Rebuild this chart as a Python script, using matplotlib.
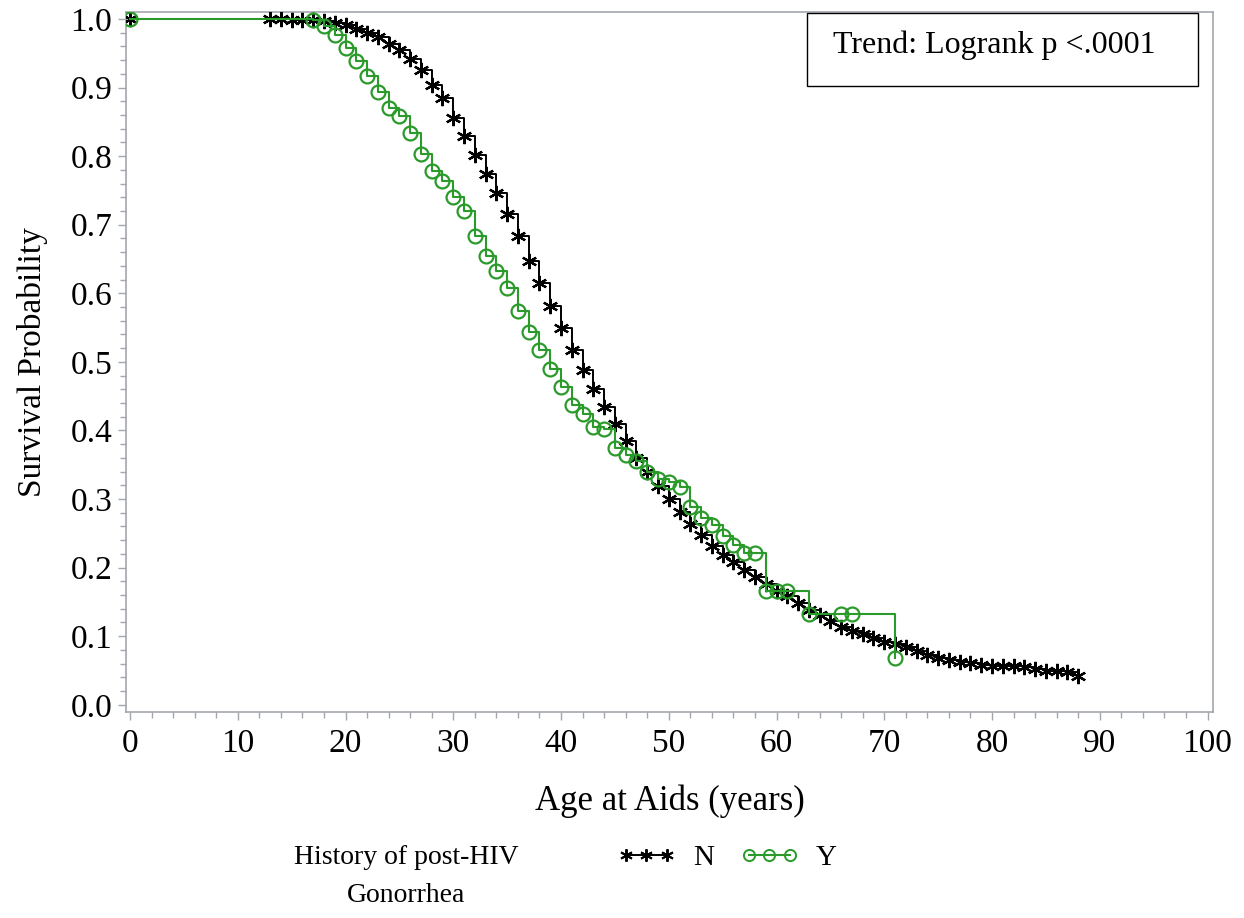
import numpy as np
import matplotlib.pyplot as plt
from matplotlib.lines import Line2D
from matplotlib.ticker import MultipleLocator

plt.rcParams['font.family'] = ['Liberation Serif', 'DejaVu Serif']

# survival estimates
ageN = [0] + list(range(13, 89))
survN = [1.0,
         1.0, 1.0, 0.999, 0.999, 0.998, 0.997, 0.994, 0.991, 0.985, 0.979,
         0.973, 0.964, 0.954, 0.942, 0.925, 0.904, 0.884, 0.856, 0.83, 0.802,
         0.774, 0.746, 0.716, 0.684, 0.647, 0.615, 0.581, 0.55, 0.518, 0.488,
         0.461, 0.434, 0.409, 0.384, 0.36, 0.34, 0.319, 0.3, 0.281, 0.263,
         0.247, 0.231, 0.218, 0.208, 0.197, 0.186, 0.176, 0.166, 0.159, 0.148,
         0.138, 0.131, 0.122, 0.113, 0.108, 0.103, 0.097, 0.092, 0.089, 0.084,
         0.079, 0.073, 0.068, 0.066, 0.062, 0.061, 0.058, 0.057, 0.057, 0.056,
         0.055, 0.052, 0.05, 0.05, 0.048, 0.042]

ageY = [0] + list(range(17, 62)) + [63, 66, 67, 71]
survY = [1.0,
         0.998, 0.99, 0.976, 0.958, 0.939, 0.917, 0.894, 0.870, 0.859, 0.834,
         0.803, 0.779, 0.763, 0.741, 0.72, 0.683, 0.654, 0.632, 0.608, 0.574,
         0.544, 0.517, 0.49, 0.464, 0.437, 0.424, 0.405, 0.402, 0.374, 0.364,
         0.355, 0.339, 0.329, 0.325, 0.317, 0.288, 0.272, 0.262, 0.246, 0.233,
         0.221, 0.221, 0.166, 0.166, 0.166,
         0.132, 0.132, 0.132, 0.068]

green = '#2a9a2a'
gray = '#a3a7ab'

fig = plt.figure(figsize=(12.44, 9.18), dpi=100)
ax = fig.add_axes([0.1013, 0.2244, 0.8737, 0.7626])

starN = (6, 2, 0)
ax.step(ageN, survN, where='post', color='black', lw=1.4, zorder=2)
ax.plot(ageN, survN, ls='none', marker=starN, ms=11, mew=1.6, color='black', zorder=3)
ax.step(ageY, survY, where='post', color=green, lw=1.5, zorder=4)
ax.plot(ageY, survY, ls='none', marker='o', ms=10, mew=1.6, mfc='none', mec=green, zorder=5)

ax.set_xlim(-0.37, 100.5)
ax.set_ylim(-0.0105, 1.0102)
ax.xaxis.set_major_locator(MultipleLocator(10))
ax.xaxis.set_minor_locator(MultipleLocator(2))
ax.yaxis.set_major_locator(MultipleLocator(0.1))
ax.yaxis.set_minor_locator(MultipleLocator(0.02))
ax.yaxis.set_major_formatter(plt.FormatStrFormatter('%.1f'))
ax.tick_params(which='major', length=6, width=1, color=gray, labelsize=24, pad=6)
ax.tick_params(axis='y', pad=4)
ax.tick_params(which='minor', length=4, width=1, color=gray)
for s in ax.spines.values():
    s.set_color(gray)
    s.set_linewidth(1.2)

ax.set_xlabel('Age at Aids (years)', fontsize=25, labelpad=18)
ax.set_ylabel('Survival Probability', fontsize=24, labelpad=16)

box = plt.Rectangle((0.627, 0.894), 0.359, 0.105, transform=ax.transAxes, fill=False,
                    ec='black', lw=1, zorder=6)
ax.add_patch(box)
ax.text(0.6505, 0.953, 'Trend: Logrank p <.0001', transform=ax.transAxes, fontsize=23,
        va='center', ha='left', zorder=6)

# legend at the bottom
fig.text(406 / 1244, 1 - 858 / 918, 'History of post-HIV', fontsize=20, ha='center', va='center')
fig.text(406 / 1244, 1 - 895 / 918, 'Gonorrhea', fontsize=20, ha='center', va='center')
handles = [Line2D([], [], color='black', lw=1.4, marker=starN, ms=9, mew=1.4),
           Line2D([], [], color=green, lw=1.5, marker='o', ms=8, mew=1.4, mfc='none')]
fig.legend(handles, ['N', 'Y'], loc='center left', bbox_to_anchor=(617 / 1244, 1 - 858 / 918),
           ncol=2, frameon=False, fontsize=21, numpoints=3, handlelength=2.0,
           handletextpad=0.6, columnspacing=0.9, borderpad=0, borderaxespad=0)

fig.savefig('out.png', dpi=100)
